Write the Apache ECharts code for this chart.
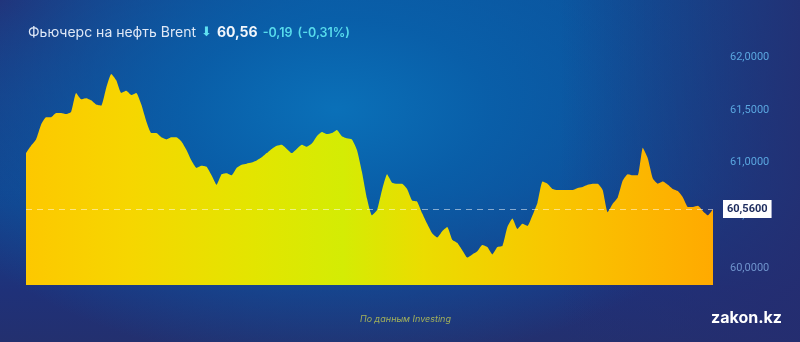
<!DOCTYPE html>
<html>
<head>
<meta charset="utf-8">
<script src="https://cdn.jsdelivr.net/npm/echarts@6/dist/echarts.min.js"></script>
<style>
html,body{margin:0;padding:0;width:800px;height:342px;overflow:hidden;}
#bg{position:absolute;left:0;top:0;width:800px;height:342px;
background:
 radial-gradient(ellipse 55% 75% at 42% 32%, rgba(10,112,184,1) 0%, rgba(8,98,172,0.85) 35%, rgba(8,90,165,0) 100%),
 radial-gradient(ellipse 40% 60% at 0% 0%, rgba(40,40,110,0.9) 0%, rgba(40,40,110,0) 100%),
 linear-gradient(180deg, #0d4f99 0%, #12448f 55%, #1f3179 85%, #23306f 100%);}
#bg2{position:absolute;left:0;top:0;width:800px;height:342px;
background: linear-gradient(90deg, rgba(35,40,110,0) 0%, rgba(35,40,110,0) 70%, rgba(37,45,112,0.85) 100%);}
#chart{position:absolute;left:0;top:0;width:800px;height:342px;}
</style>
</head>
<body>
<div id="bg"></div><div id="bg2"></div>
<div id="chart"></div>
<script>
// Brent futures price (left to right)
const prices = [
 61.09,61.16,61.22,61.36,61.43,61.43,61.47,61.47,61.46,61.48,
 61.66,61.60,61.61,61.59,61.55,61.54,61.71,61.84,61.78,61.66,
 61.68,61.64,61.66,61.55,61.39,61.28,61.28,61.24,61.22,61.24,
 61.24,61.20,61.12,61.02,60.95,60.97,60.96,60.88,60.79,60.89,
 60.90,60.88,60.95,60.98,60.99,61.00,61.02,61.05,61.09,61.13,
 61.16,61.17,61.13,61.09,61.13,61.17,61.15,61.18,61.25,61.29,
 61.27,61.28,61.31,61.25,61.23,61.22,61.12,60.91,60.66,60.50,
 60.55,60.74,60.89,60.81,60.80,60.80,60.75,60.64,60.63,60.52,
 60.42,60.33,60.29,60.35,60.39,60.27,60.24,60.17,60.10,60.13,
 60.16,60.22,60.20,60.13,60.20,60.21,60.39,60.47,60.37,60.42,
 60.40,60.50,60.62,60.82,60.80,60.75,60.74,60.74,60.74,60.74,
 60.76,60.77,60.79,60.80,60.80,60.74,60.53,60.61,60.67,60.83,
 60.89,60.88,60.88,61.14,61.04,60.85,60.80,60.82,60.79,60.75,
 60.73,60.67,60.58,60.58,60.59,60.54,60.50,60.56
];
const categories = prices.map((_, i) => String(i));
const yTicks = [60, 60.5, 61, 61.5, 62];
const lastPrice = 60.56;
const titleName = 'Фьючерс на нефть Brent';
const titlePrice = '60,56';
const titleChange = '-0,19';
const titlePct = '(-0,31%)';
const sourceText = 'По данным Investing';
const brandText = 'zakon.kz';

const chart = echarts.init(document.getElementById('chart'), null, {renderer:'canvas'});
const fmt4 = v => v.toFixed(4).replace('.', ',');
chart.setOption({
  backgroundColor: 'transparent',
  animation: false,
  title: [{
    left: 23, top: 19,
    text: '{a|' + titleName + '} {arr|⬇} {b|' + titlePrice + '} {c|' + titleChange + '} {c|' + titlePct + '}',
    textStyle: {
      fontWeight: 'normal',
      rich: {
        a: {fontFamily: 'Inter', fontSize: 14, fontWeight: 'normal', color: '#dfe8f6'},
        arr: {fontFamily: 'DejaVu Sans', fontSize: 13, color: '#5fe0f0'},
        b: {fontFamily: 'Inter', fontSize: 14, fontWeight: 'bold', color: '#f2f6fb'},
        c: {fontFamily: 'Inter', fontSize: 12.5, fontWeight: 600, color: '#57dcec'}
      }
    }
  }, {
    left: 355, top: 310,
    text: sourceText,
    textStyle: {fontFamily: 'Inter', fontSize: 9, fontStyle: 'italic', fontWeight: 'normal', color: '#a3b15a'}
  }, {
    left: 706, top: 305,
    text: brandText,
    textStyle: {fontFamily: 'Inter', fontSize: 16, fontWeight: 'bold', color: '#ffffff'}
  }],
  grid: {left: 26, right: 87, top: 36, bottom: 57},
  xAxis: {
    type: 'category', data: categories, boundaryGap: false,
    axisLine: {show: false}, axisTick: {show: false}, axisLabel: {show: false}, splitLine: {show: false}
  },
  yAxis: {
    type: 'value', position: 'right', min: 59.84, max: 62.2,
    axisLine: {show: false}, axisTick: {show: false}, splitLine: {show: false},
    axisLabel: {
      customValues: yTicks, margin: 17,
      formatter: fmt4,
      fontFamily: 'Roboto', fontSize: 11,
      color: function(v){ return v <= 60.01 ? '#6f93cc' : '#5aa6df'; }
    }
  },
  series: [{
    type: 'line', data: prices, smooth: 0.15, showSymbol: false,
    lineStyle: {width: 0},
    areaStyle: {
      opacity: 1,
      color: new echarts.graphic.LinearGradient(0, 0, 1, 0, [
        {offset: 0, color: '#fdc800'},
        {offset: 0.15, color: '#f6d600'},
        {offset: 0.33, color: '#e3e500'},
        {offset: 0.46, color: '#d4ec04'},
        {offset: 0.58, color: '#ebdc00'},
        {offset: 0.76, color: '#f8c700'},
        {offset: 1, color: '#ffaa00'}
      ])
    },
    markLine: {
      silent: true, symbol: ['none', 'none'],
      lineStyle: {type: [6, 5], width: 1, color: 'rgba(255,255,255,0.5)'},
      label: {
        position: 'end', distance: 10,
        formatter: fmt4(lastPrice),
        backgroundColor: '#ffffff', color: '#1b2a5c',
        fontFamily: 'Roboto', fontWeight: 'bold', fontSize: 11, padding: [4, 4, 3, 4]
      },
      data: [{yAxis: lastPrice}]
    }
  }]
});
</script>
</body>
</html>
